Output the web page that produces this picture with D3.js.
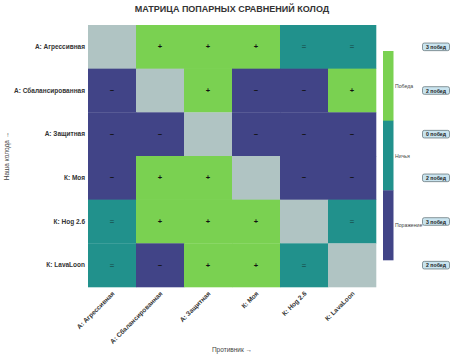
<!DOCTYPE html>
<html><head><meta charset="utf-8">
<script src="https://cdn.jsdelivr.net/npm/d3@7"></script>
<style>body{margin:0;background:#fff;} text{font-family:"Liberation Sans",Arial,sans-serif;}</style>
</head><body><svg id="c" width="450" height="359"></svg>
<script>
const decks = ["А: Агрессивная","А: Сбалансированная","А: Защитная","К: Моя","К: Hog 2.6","К: LavaLoon"];
// 1 = win, 0 = draw, -1 = loss, null = diagonal
const results = [
  [null, 1, 1, 1, 0, 0],
  [-1, null, 1, -1, -1, 1],
  [-1, -1, null, -1, -1, -1],
  [-1, 1, 1, null, -1, -1],
  [0, 1, 1, 1, null, 0],
  [0, -1, 1, 1, 0, null]
];
const outcomeLabels = ["Победа","Ничья","Поражение"];
const outcomeValues = [1, 0, -1];
const winLabels = ["3 побед","2 побед","0 побед","2 побед","3 побед","2 побед"];
const title = "МАТРИЦА ПОПАРНЫХ СРАВНЕНИЙ КОЛОД";

(function(){
const FF = "Liberation Sans, Arial, sans-serif";
const svg = d3.select("#c");
const mLeft = 88, mRight = 376, mTop = 25, mBottom = 287;
const x = d3.scaleBand().domain(d3.range(decks.length)).range([mLeft, mRight]);
const y = d3.scaleBand().domain(d3.range(decks.length)).range([mTop, mBottom]);
const color = d3.scaleOrdinal().domain([1,0,-1]).range(["#7ad151","#21918c","#414487"]);
const sym = {1:"+",0:"=","-1":"−"};

svg.append("text").attr("x",232).attr("y",12).attr("text-anchor","middle")
  .attr("font-size",9).attr("font-weight","bold").attr("fill","#333").text(title);

const cells = [];
results.forEach((row,i)=>row.forEach((v,j)=>cells.push({i,j,v})));
svg.selectAll("rect.cell").data(cells).join("rect").attr("class","cell")
  .attr("x",d=>x(d.j)).attr("y",d=>y(d.i)).attr("width",x.bandwidth()+0.3).attr("height",y.bandwidth()+0.3)
  .attr("fill",d=>d.v===null?"#b0c4c3":color(d.v));
svg.selectAll("text.sym").data(cells.filter(d=>d.v!==null)).join("text").attr("class","sym")
  .attr("x",d=>x(d.j)+x.bandwidth()/2).attr("y",d=>y(d.i)+y.bandwidth()/2)
  .attr("text-anchor","middle").attr("dominant-baseline","central")
  .attr("font-size",7.5).attr("font-weight","bold")
  .attr("fill",d=>d.v===0?"#1a5e5b":"#111").text(d=>sym[d.v]);

const yAxis = d3.axisLeft(y).tickSize(0).tickPadding(3).tickFormat(i=>decks[i]);
const gy = svg.append("g").attr("transform",`translate(${mLeft},0)`).call(yAxis);
gy.select(".domain").remove();
gy.attr("font-family",FF);
gy.selectAll("text").attr("font-size",6.5).attr("font-weight","bold").attr("fill","#333");

const xAxis = d3.axisBottom(x).tickSize(0).tickPadding(0).tickFormat(i=>decks[i]);
const gx = svg.append("g").attr("transform",`translate(0,${mBottom})`).call(xAxis);
gx.select(".domain").remove();
gx.attr("font-family",FF);
gx.selectAll("text").attr("font-size",6.5).attr("font-weight","bold").attr("fill","#333")
  .attr("text-anchor","end").attr("dy",0).attr("transform","translate(3,7) rotate(-45)");

svg.append("text").attr("x",232).attr("y",352).attr("text-anchor","middle")
  .attr("font-size",6.5).attr("fill","#444").text("Противник →");
svg.append("text").attr("transform","translate(9,156) rotate(-90)").attr("text-anchor","middle")
  .attr("font-size",6.5).attr("fill","#444").text("Наша колода →");

const cb = d3.scaleBand().domain(outcomeValues).range([51,260]);
svg.selectAll("rect.cb").data(outcomeValues).join("rect").attr("class","cb")
  .attr("x",383).attr("y",d=>cb(d)).attr("width",10.5).attr("height",cb.bandwidth()+0.3)
  .attr("fill",d=>color(d));
svg.selectAll("text.cbl").data(outcomeValues).join("text").attr("class","cbl")
  .attr("x",395).attr("y",d=>cb(d)+cb.bandwidth()/2).attr("dominant-baseline","central")
  .attr("font-size",5.2).attr("fill","#444").text((d,k)=>outcomeLabels[k]);

const badges = svg.selectAll("g.badge").data(winLabels).join("g").attr("class","badge")
  .attr("transform",(d,i)=>`translate(436,${y(i)+y.bandwidth()/2})`);
badges.append("rect").attr("x",-13.5).attr("y",-3.8).attr("width",27).attr("height",7.6)
  .attr("rx",1.8).attr("fill","#c9e4ef").attr("stroke","#6b7b80").attr("stroke-width",0.8);
badges.append("text").attr("text-anchor","middle").attr("dominant-baseline","central")
  .attr("font-size",5.2).attr("font-weight","bold").attr("fill","#222").text(d=>d);
})();
</script></body></html>
